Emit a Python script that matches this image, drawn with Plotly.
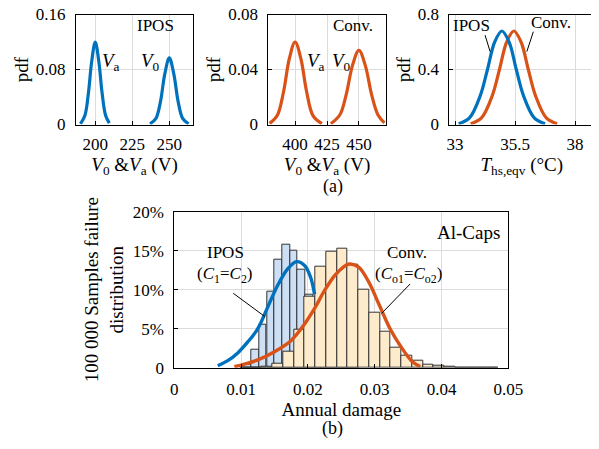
import plotly.graph_objects as go

# ---------------- data ----------------
# Panel (a1) IPOS voltage pdfs
ipos_va_x = [190, 193, 195.5, 197.5, 200, 202.5, 204.5, 207, 209.5]
ipos_va_y = [0.001, 0.013, 0.048, 0.09, 0.12, 0.09, 0.048, 0.013, 0.002]
ipos_v0_x = [237, 241, 244, 247, 250, 253, 256, 259, 263]
ipos_v0_y = [0.001, 0.009, 0.033, 0.074, 0.097, 0.074, 0.033, 0.009, 0.001]

# Panel (a2) Conv. voltage pdfs
conv_va_x = [380, 386, 391, 395.5, 400, 404.5, 409, 414, 421]
conv_va_y = [0.0007, 0.0065, 0.024, 0.048, 0.06, 0.048, 0.024, 0.0065, 0.0006]
conv_v0_x = [428, 435, 440, 445, 450, 455, 460, 465, 470]
conv_v0_y = [0.0006, 0.0069, 0.0216, 0.043, 0.054, 0.043, 0.0216, 0.0069, 0.0012]

# Panel (a3) heat-sink temperature pdfs
ths_ipos_x = [33.15, 33.6, 34.05, 34.35, 34.65, 34.95, 35.25, 35.55, 35.85, 36.3, 36.75]
ths_ipos_y = [0.006, 0.048, 0.21, 0.40, 0.60, 0.68, 0.60, 0.40, 0.21, 0.048, 0.006]
ths_conv_x = [33.65, 34.1, 34.55, 34.85, 35.15, 35.45, 35.75, 36.05, 36.35, 36.8, 37.25]
ths_conv_y = [0.006, 0.048, 0.21, 0.40, 0.60, 0.68, 0.60, 0.40, 0.21, 0.048, 0.006]

# Panel (b) histograms (% of 100 000 samples), bin left edges
ipos_bin_left = [0.01038, 0.01154, 0.01269, 0.01385, 0.01500, 0.01616, 0.01731, 0.01847,
                 0.01962, 0.02078, 0.02193, 0.02309, 0.02424, 0.02540, 0.02655]
ipos_bin_pct = [0.4, 2.35, 5.5, 9.8, 13.9, 15.8, 15.0, 12.6, 9.4, 6.5, 4.0, 2.3, 1.2, 0.6, 0.3]
ipos_bin_width = 0.001156

conv_bin_left = [0.00984, 0.01145, 0.01306, 0.01467, 0.01628, 0.01789, 0.01950, 0.02111,
                 0.02272, 0.02433, 0.02594, 0.02755, 0.02916, 0.03077, 0.03238, 0.03399,
                 0.03560, 0.03721, 0.03882, 0.04043, 0.04204, 0.04365, 0.04526, 0.04687]
conv_bin_pct = [0.02, 0.05, 0.15, 0.5, 2.0, 4.9, 9.1, 12.9, 14.9, 15.2, 13.2, 10.0, 7.0,
                4.6, 2.6, 1.5, 0.85, 0.43, 0.2, 0.1, 0.06, 0.04, 0.03, 0.02]
conv_bin_width = 0.00161

# Fitted distribution curves (%)
ipos_fit_x = [0.0065, 0.0080, 0.0095, 0.0110, 0.0125, 0.0140, 0.0155, 0.0170, 0.0183, 0.0195, 0.0204, 0.0210]
ipos_fit_y = [0.25, 0.9, 1.9, 3.3, 5.0, 7.8, 10.6, 12.7, 13.6, 13.1, 11.6, 9.4]
conv_fit_x = [0.0090, 0.0105, 0.0125, 0.0150, 0.0175, 0.0195, 0.0210, 0.0225, 0.0240, 0.0253,
              0.0262, 0.0276, 0.0291, 0.0307, 0.0323, 0.0340, 0.0356, 0.0368]
conv_fit_y = [0.12, 0.45, 1.0, 2.05, 3.5, 5.6, 7.6, 9.9, 11.8, 12.9, 13.3, 12.9, 11.0, 8.0,
              5.0, 2.6, 0.8, 0.15]

# tick labels
p1_xticks = [200, 225, 250]
p1_yticks = [0, 0.08, 0.16]
p1_yticktext = ["0", "0.08", "0.16"]
p2_xticks = [400, 425, 450]
p2_yticks = [0, 0.04, 0.08]
p2_yticktext = ["0", "0.04", "0.08"]
p3_xticks = [33, 35.5, 38]
p3_yticks = [0, 0.4, 0.8]
p3_yticktext = ["0", "0.4", "0.8"]
hist_xticks = [0, 0.01, 0.02, 0.03, 0.04, 0.05]
hist_xticktext = ["0", "0.01", "0.02", "0.03", "0.04", "0.05"]
hist_yticks = [0, 5, 10, 15, 20]
hist_yticktext = ["0", "5%", "10%", "15%", "20%"]

# ---------------- styling ----------------
BLUE = "#0072BD"
ORANGE = "#D95319"
BLUE_FILL = "#cddff5"
ORANGE_FILL = "#fdebcc"
FONT = "Liberation Serif"
OFF = 8                      # default page margin of the html body
W, H = 599 - OFF, 449 - 2 * OFF
TOP_T, TOP_B = 14.5, 124.5   # top-row plot area (page px)

fig = go.Figure()

def line(x, y, color, xa, ya, w=3.2):
    fig.add_trace(go.Scatter(x=x, y=y, mode="lines", line=dict(color=color, width=w, shape="spline"),
                             xaxis=xa, yaxis=ya, showlegend=False, hoverinfo="skip"))

line(ipos_va_x, ipos_va_y, BLUE, "x", "y")
line(ipos_v0_x, ipos_v0_y, BLUE, "x", "y")
line(conv_va_x, conv_va_y, ORANGE, "x2", "y2")
line(conv_v0_x, conv_v0_y, ORANGE, "x2", "y2")
line(ths_conv_x, ths_conv_y, ORANGE, "x3", "y3")
line(ths_ipos_x, ths_ipos_y, BLUE, "x3", "y3")

fig.add_trace(go.Bar(x=ipos_bin_left, y=ipos_bin_pct, width=ipos_bin_width, offset=0,
                     marker=dict(color=BLUE_FILL, line=dict(color="#333333", width=1)),
                     xaxis="x4", yaxis="y4", showlegend=False, hoverinfo="skip"))
fig.add_trace(go.Bar(x=conv_bin_left, y=conv_bin_pct, width=conv_bin_width, offset=0,
                     marker=dict(color=ORANGE_FILL, line=dict(color="#333333", width=1)),
                     xaxis="x4", yaxis="y4", showlegend=False, hoverinfo="skip"))
line(conv_fit_x, conv_fit_y, ORANGE, "x4", "y4", 3.4)
line(ipos_fit_x, ipos_fit_y, BLUE, "x4", "y4", 3.4)

def px_dom_x(a, b):
    return [(a - OFF) / W, (b - OFF) / W]

def px_dom_y(top, bottom):
    return [1 - (bottom - OFF) / H, 1 - (top - OFF) / H]

def pxp(x, y):
    return (x - OFF) / W, 1 - (y - OFF) / H

tickfont = dict(family=FONT, size=17, color="black")
titlefont = dict(family=FONT, size=19, color="black")

def ax(**kw):
    base = dict(showline=True, mirror=True, linecolor="black", linewidth=1,
                ticks="inside", ticklen=4, tickcolor="black", showgrid=True,
                gridcolor="#dcdcdc", gridwidth=1, zeroline=False, tickfont=tickfont,
                title_font=titlefont, automargin=False, ticklabeloverflow="allow")
    base.update(kw)
    return base

vtitle = "<i>V</i><sub>0</sub> &<i>V</i><sub>a</sub> (V)"

fig.update_layout(
    width=W, height=H, margin=dict(l=0, r=0, t=0, b=0, autoexpand=False),
    plot_bgcolor="white", paper_bgcolor="white", barmode="overlay", bargap=0,
    font=dict(family=FONT, color="black"),
    xaxis=ax(domain=px_dom_x(76, 193), range=[187, 266], tickvals=p1_xticks,
             ticklabelstandoff=4, title=dict(text=vtitle, standoff=1), anchor="y"),
    yaxis=ax(domain=px_dom_y(TOP_T, TOP_B), range=[0, 0.16], tickvals=p1_yticks,
             ticktext=p1_yticktext, ticklabelstandoff=6, title=dict(text="pdf", standoff=2), anchor="x"),
    xaxis2=ax(domain=px_dom_x(268.3, 385.7), range=[379, 471], tickvals=p2_xticks,
              ticklabelstandoff=4, title=dict(text=vtitle, standoff=1), anchor="y2"),
    yaxis2=ax(domain=px_dom_y(TOP_T, TOP_B), range=[0, 0.08], tickvals=p2_yticks,
              ticktext=p2_yticktext, ticklabelstandoff=6, title=dict(text="pdf", standoff=2), anchor="x2"),
    xaxis3=ax(domain=px_dom_x(449.3, 594.3), range=[32.76, 38.8], tickvals=p3_xticks,
              ticklabelstandoff=4, title=dict(text="<i>T</i><sub>hs,eqv</sub> (°C)", standoff=1), anchor="y3"),
    yaxis3=ax(domain=px_dom_y(TOP_T, TOP_B), range=[0, 0.8], tickvals=p3_yticks,
              ticktext=p3_yticktext, ticklabelstandoff=6, title=dict(text="pdf", standoff=2), anchor="x3"),
    xaxis4=ax(domain=px_dom_x(174.3, 508.3), range=[0, 0.05], tickvals=hist_xticks,
              ticktext=hist_xticktext, ticklabelstandoff=6,
              title=dict(text="Annual damage", standoff=2), anchor="y4"),
    yaxis4=ax(domain=px_dom_y(211.7, 367.7), range=[0, 20], tickvals=hist_yticks,
              ticktext=hist_yticktext, ticklabelstandoff=6,
              title=dict(text="100 000 Samples failure<br>distribution", standoff=4), anchor="x4"),
)

ann_font = dict(family=FONT, size=17, color="black")
ax_a, ay_a = pxp(333, 186)
ax_b, _ = pxp(333, 432)
anns = [
    dict(x=240.7, y=0.1437, xref="x", yref="y", text="IPOS", font=ann_font),
    dict(x=210.8, y=0.0916, xref="x", yref="y", text="<i>V</i><sub>a</sub>", font=dict(family=FONT, size=19)),
    dict(x=237.3, y=0.0916, xref="x", yref="y", text="<i>V</i><sub>0</sub>", font=dict(family=FONT, size=19)),
    dict(x=445, y=0.0718, xref="x2", yref="y2", text="Conv.", font=ann_font),
    dict(x=416.5, y=0.0458, xref="x2", yref="y2", text="<i>V</i><sub>a</sub>", font=dict(family=FONT, size=19)),
    dict(x=436, y=0.0458, xref="x2", yref="y2", text="<i>V</i><sub>0</sub>", font=dict(family=FONT, size=19)),
    dict(x=33.69, y=0.723, xref="x3", yref="y3", text="IPOS", font=ann_font),
    dict(x=37.0, y=0.74, xref="x3", yref="y3", text="Conv.", font=ann_font),
    dict(x=0.04404, y=17.27, xref="x4", yref="y4", text="Al-Caps", font=dict(family=FONT, size=19)),
    dict(x=0.0349, y=14.83, xref="x4", yref="y4", text="Conv.", font=ann_font),
    dict(x=0.0351, y=11.9, xref="x4", yref="y4", text="(<i>C</i><sub>o1</sub>=<i>C</i><sub>o2</sub>)", font=ann_font),
    dict(x=0.00759, y=14.83, xref="x4", yref="y4", text="IPOS", font=ann_font),
    dict(x=0.00766, y=11.9, xref="x4", yref="y4", text="(<i>C</i><sub>1</sub>=<i>C</i><sub>2</sub>)", font=ann_font),
    dict(x=ax_a, y=ay_a, xref="paper", yref="paper", text="(a)", font=dict(family=FONT, size=18)),
    dict(x=ax_b, y=0, yanchor="bottom", xref="paper", yref="paper", text="(b)",
         font=dict(family=FONT, size=18)),
]
for a in anns:
    fig.add_annotation(showarrow=False, **a)

# leader lines
leaders = [
    ("x3", "y3", 34.25, 0.65, 34.46, 0.53),
    ("x3", "y3", 36.26, 0.675, 35.99, 0.53),
    ("x4", "y4", 0.0353, 10.73, 0.03105, 6.97),
    ("x4", "y4", 0.00883, 9.54, 0.01358, 6.54),
]
for xr, yr, x0, y0, x1, y1 in leaders:
    fig.add_shape(type="line", xref=xr, yref=yr, x0=x0, y0=y0, x1=x1, y1=y1,
                  line=dict(color="black", width=1))

fig.write_html("out.html")
